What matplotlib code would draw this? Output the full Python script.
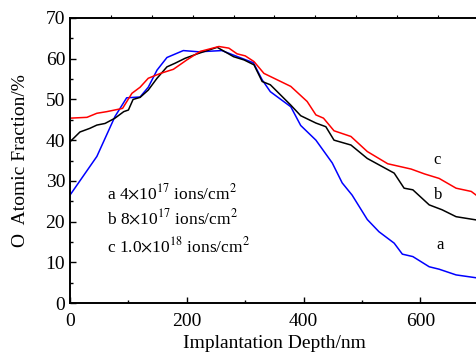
import numpy as np
import matplotlib
matplotlib.use('Agg')
import matplotlib.pyplot as plt
from matplotlib.ticker import MultipleLocator

# depth (nm) / O atomic fraction (%)
depth_a = [0, 46, 77, 97, 120, 134, 149, 166, 194, 220, 260, 314, 329, 343, 378, 395,
           421, 449, 466, 483, 509, 529, 555, 569, 587, 615, 632, 661, 700]
frac_a = [26.5, 36, 45.8, 50.4, 50.6, 53, 57.2, 60.3, 62, 61.7, 62, 59, 54.8, 51.9, 48.2, 43.6,
          40, 34.4, 29.5, 26.5, 20.5, 17.5, 14.7, 12, 11.4, 8.9, 8.3, 6.9, 6.1]

depth_b = [0, 17, 34, 46, 60, 77, 92, 100, 108, 120, 134, 149, 166, 180, 197, 220, 252,
           280, 298, 315, 329, 343, 378, 395, 421, 438, 452, 481, 509, 555, 572, 587,
           615, 637, 661, 700]
frac_b = [39.6, 42, 42.9, 43.7, 44.1, 45.4, 47, 47.4, 50, 50.5, 52.3, 55.2, 58, 58.9, 60.1,
          61.3, 62.8, 60.5, 59.7, 58.5, 54.4, 53.6, 48.6, 46, 44.2, 43.3, 40, 38.8, 35.5,
          31.9, 28.2, 27.8, 24.1, 22.9, 21.2, 20.3]

depth_c = [0, 29, 46, 63, 90, 106, 120, 134, 155, 177, 200, 223, 255, 272, 286, 300, 315,
           332, 355, 378, 406, 421, 434, 452, 481, 509, 544, 584, 607, 632, 661, 687, 700]
frac_c = [45.4, 45.6, 46.6, 47, 47.8, 51.5, 53, 55.2, 56.4, 57.4, 59.7, 61.8, 63, 62.6, 61.2,
          60.7, 59.3, 56.4, 54.8, 53.2, 49.5, 46.2, 45.4, 42.3, 40.9, 37.2, 34.2, 32.9, 31.7,
          30.6, 28.2, 27.4, 26]

curve_labels = ['a', 'b', 'c']
curve_colors = ['#0000ff', '#000000', '#ff0000']
dose_texts = [r'a 4$\times$10$^{17}$ ions/cm$^2$',
              r'b 8$\times$10$^{17}$ ions/cm$^2$',
              r'c 1.0$\times$10$^{18}$ ions/cm$^2$']

plt.rcParams['font.family'] = ['Liberation Serif', 'DejaVu Serif']
plt.rcParams['mathtext.fontset'] = 'stix'

fig = plt.figure(figsize=(4.76, 3.59), dpi=100)
ax = fig.add_axes([70 / 476, 1 - 303 / 359, 1.006 - 70 / 476, (303 - 18) / 359])

for d, f, c in zip([depth_a, depth_b, depth_c], [frac_a, frac_b, frac_c], curve_colors):
    ax.plot(d, f, color=c, lw=1.1)

ax.set_xlim(0, 700)
ax.set_ylim(0, 70)
ax.xaxis.set_major_locator(MultipleLocator(200))
ax.xaxis.set_minor_locator(MultipleLocator(100))
ax.yaxis.set_major_locator(MultipleLocator(10))
ax.yaxis.set_minor_locator(MultipleLocator(5))
ax.tick_params(which='both', direction='in', labelsize=14, top=False, right=False)
ax.tick_params(which='major', length=4, width=1)
ax.tick_params(which='minor', length=2.5, width=1)
ax.tick_params(axis='x', pad=7)
ax.spines['right'].set_visible(False)
for s in ['left', 'bottom', 'top']:
    ax.spines[s].set_linewidth(1.4)

# short outward ticks along the top edge
top = ax.secondary_xaxis('top')
top.set_xticks(np.arange(70, 700, 70))
top.tick_params(direction='out', length=2, width=0.8, labelsize=0, labeltop=False)
top.spines['top'].set_visible(False)

ax.set_xlabel('Implantation Depth/nm', fontsize=14, labelpad=4)
ax.set_ylabel('O  Atomic Fraction/%', fontsize=14, labelpad=12)

for lab, (x, y) in zip(curve_labels, [(633, 14.3), (631, 26.5), (628, 35)]):
    ax.text(x, y, lab, fontsize=12, ha='center', va='center')
for txt, y in zip(dose_texts, [27, 20.8, 14]):
    ax.text(63, y, txt, fontsize=12.5, ha='left', va='center')

fig.savefig('out.png', dpi=100)
